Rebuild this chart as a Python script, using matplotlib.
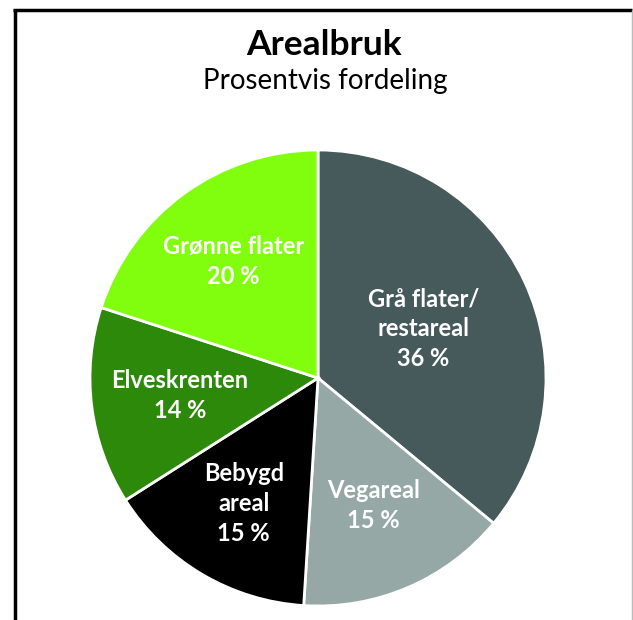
import numpy as np
import matplotlib; matplotlib.use("Agg")
import matplotlib.pyplot as plt
from matplotlib.lines import Line2D

labels = ["Grå flater/\nrestareal", "Vegareal", "Bebygd\nareal", "Elveskrenten", "Grønne flater"]
shares = [36, 15, 15, 14, 20]
colors = ["#46595b", "#95a8a5", "#000000", "#2c8909", "#80fe0e"]
label_r = [0.51, 0.61, 0.64, 0.61, 0.63]

plt.rcParams["font.family"] = ["Lato", "DejaVu Sans"]

W, H = 633, 620
fig = plt.figure(figsize=(W / 100, H / 100), dpi=100)
R, cx, cy = 228, 318, 242
ax = fig.add_axes([(cx - R) / W, (cy - R) / H, 2 * R / W, 2 * R / H])
wedges, _ = ax.pie(shares, colors=colors, startangle=90, counterclock=False,
                   wedgeprops=dict(edgecolor="white", linewidth=2))
for w, lab, v, r in zip(wedges, labels, shares, label_r):
    a = np.deg2rad((w.theta1 + w.theta2) / 2)
    ax.text(r * np.cos(a), r * np.sin(a), f"{lab}\n{v} %", ha="center", va="center",
            color="white", fontsize=17, fontweight="bold", linespacing=1.35)
ax.set_xlim(-1, 1); ax.set_ylim(-1, 1)
ax.set_aspect("equal"); ax.axis("off")

fig.text(324 / W, 1 - 45 / H, "Arealbruk", ha="center", va="center", fontsize=25.5, fontweight="bold")
fig.text(325 / W, 1 - 81 / H, "Prosentvis fordeling", ha="center", va="center", fontsize=20)

# frame around the figure
kw = dict(transform=fig.transFigure, solid_capstyle="butt")
fig.add_artist(Line2D([14.5 / W, 14.5 / W], [0, 1 - 8.5 / H], color="black", lw=2.5, **kw))
fig.add_artist(Line2D([13 / W, 632 / W], [1 - 10 / H, 1 - 10 / H], color="black", lw=2.5, **kw))
fig.add_artist(Line2D([632 / W, 632 / W], [0, 1 - 10 / H], color="#bbbbbb", lw=1, **kw))

fig.savefig("out.png", dpi=100)
